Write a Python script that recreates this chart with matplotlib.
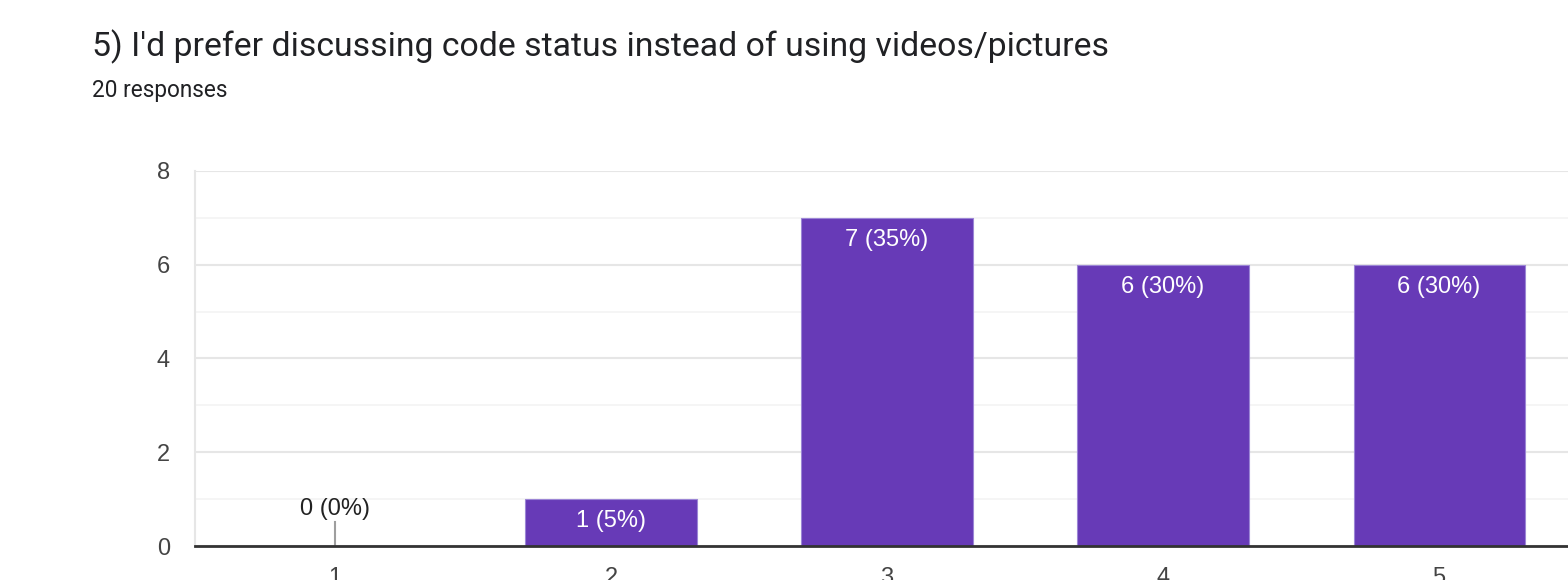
import matplotlib.pyplot as plt
from matplotlib.ticker import MultipleLocator

# Survey answers (linear scale 1-5)
categories = [1, 2, 3, 4, 5]
counts = [0, 1, 7, 6, 6]
total = 20
title = "5) I'd prefer discussing code status instead of using videos/pictures"
subtitle = "20 responses"

purple = "#673ab7"

fig = plt.figure(figsize=(15.68, 5.8), dpi=100)
ax = fig.add_axes([0.1244, 0.0586, 0.8814, 0.6466])

bars = ax.bar(categories, counts, width=0.62, color=purple,
              edgecolor="#9c86d6", linewidth=0.8, zorder=3)

# zero-height answers get a small gray stub like the Forms chart
for x, c in zip(categories, counts):
    label = f"{c} ({c / total:.0%})"
    if c == 0:
        ax.plot([x, x], [0, 0.52], color="#9e9e9e", lw=1.5, zorder=3)
        ax.annotate(label, (x, 0), xytext=(0, 27), textcoords="offset points",
                    ha="center", va="center", fontsize=17, color="#222222",
                    family="Liberation Sans")
    else:
        ax.annotate(label, (x, c), xytext=(0, -16), textcoords="offset points",
                    ha="center", va="center", fontsize=17, color="white",
                    family="Liberation Sans", zorder=4)

ax.set_xlim(0.493, 5.5)
ax.set_ylim(0, 8)
ax.yaxis.set_major_locator(MultipleLocator(2))
ax.yaxis.set_minor_locator(MultipleLocator(1))
ax.grid(axis="y", which="major", color="#e6e6e6", lw=1.5, zorder=0)
ax.grid(axis="y", which="minor", color="#f3f3f3", lw=1.2, zorder=0)
ax.set_axisbelow(True)

ax.set_xticks(categories)
ax.tick_params(axis="both", which="both", length=0, labelsize=17,
               labelcolor="#444444")
ax.tick_params(axis="y", pad=18)
ax.tick_params(axis="x", pad=15)
for lbl in ax.get_xticklabels() + ax.get_yticklabels():
    lbl.set_family("Liberation Sans")

for side in ["top", "right"]:
    ax.spines[side].set_visible(False)
ax.spines["left"].set_color("#e6e6e6")
ax.spines["left"].set_linewidth(1.5)
ax.spines["bottom"].set_color("#333333")
ax.spines["bottom"].set_linewidth(2)
ax.spines["bottom"].set_zorder(5)

fig.text(92 / 1568, 1 - 47 / 580, title, fontsize=24.3, color="#202124",
         family="Roboto", va="center", ha="left")
fig.text(92 / 1568, 1 - 91 / 580, subtitle, fontsize=16.3, color="#202124",
         family="Roboto", va="center", ha="left")

fig.savefig("out.png", dpi=100)
